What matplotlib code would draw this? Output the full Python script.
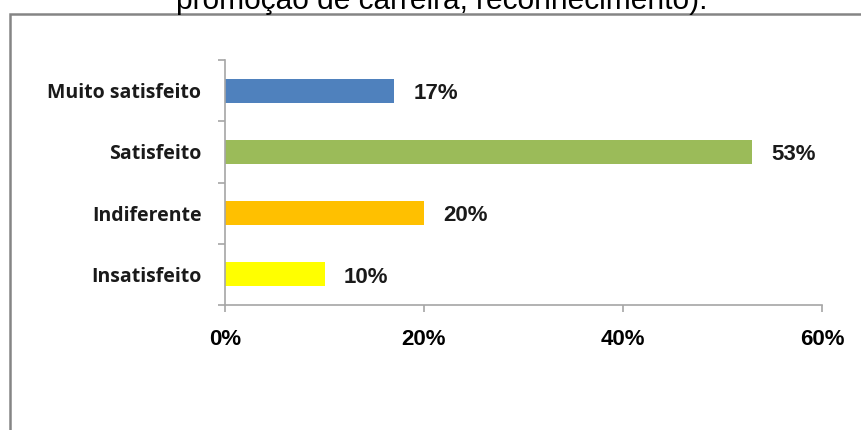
import matplotlib.pyplot as plt
from matplotlib.patches import Rectangle

# satisfaction survey (career promotion, recognition)
categorias = ['Muito satisfeito', 'Satisfeito', 'Indiferente', 'Insatisfeito']
percentuais = [17, 53, 20, 10]
cores = ['#4F81BD', '#9BBB59', '#FFC000', '#FFFF00']
ticks_x = [0, 20, 40, 60]
titulo = 'promoção de carreira, reconhecimento).'

W, H = 861, 430
fig = plt.figure(figsize=(W / 100, H / 100), dpi=100)

# frame of the chart area (runs off the right/bottom edge)
fig.patches.append(Rectangle((10 / W, -0.1), 1.1, 1 - 14 / H + 0.1,
                             transform=fig.transFigure, fill=False,
                             edgecolor='#858585', linewidth=1.8))

# caption line, cut off at the top of the image
fig.text(442 / W, 1 - 9 / H, titulo, ha='center', va='baseline',
         fontsize=21.5, family='Liberation Sans', color='#000000')

ax = fig.add_axes([225 / W, 1 - 305 / H, (822 - 225) / W, (305 - 60) / H])

pos = list(range(len(categorias)))
ax.barh(pos, percentuais, height=0.39, color=cores, edgecolor='none', zorder=2)

ax.set_xlim(0, 60)
ax.set_ylim(len(categorias) - 0.5, -0.5)

for y, v in zip(pos, percentuais):
    ax.annotate(f'{v}%', (v, y), xytext=(14, -2), textcoords='offset points',
                ha='left', va='center', fontsize=16, fontweight='bold',
                family='Liberation Sans', color='#1a1a1a')

for s in ['top', 'right']:
    ax.spines[s].set_visible(False)
for s in ['left', 'bottom']:
    ax.spines[s].set_color('#a6a6a6')
    ax.spines[s].set_linewidth(1.2)

ax.set_xticks(ticks_x)
ax.set_xticklabels([f'{t}%' for t in ticks_x], fontsize=16, fontweight='bold',
                   family='Liberation Sans')
ax.tick_params(axis='x', length=5, width=1.2, color='#a6a6a6', pad=12)

# category boundaries get tick marks, labels sit at bar centres
ax.set_yticks([p - 0.5 for p in pos] + [len(pos) - 0.5])
ax.set_yticklabels([])
ax.tick_params(axis='y', which='major', length=5, width=1.2, color='#a6a6a6')
ax.set_yticks(pos, minor=True)
ax.set_yticklabels(categorias, minor=True, family='Open Sans',
                   fontweight='bold', fontsize=14, color='#1a1a1a')
ax.tick_params(axis='y', which='minor', length=0, pad=17)

fig.savefig('out.png', dpi=100)
